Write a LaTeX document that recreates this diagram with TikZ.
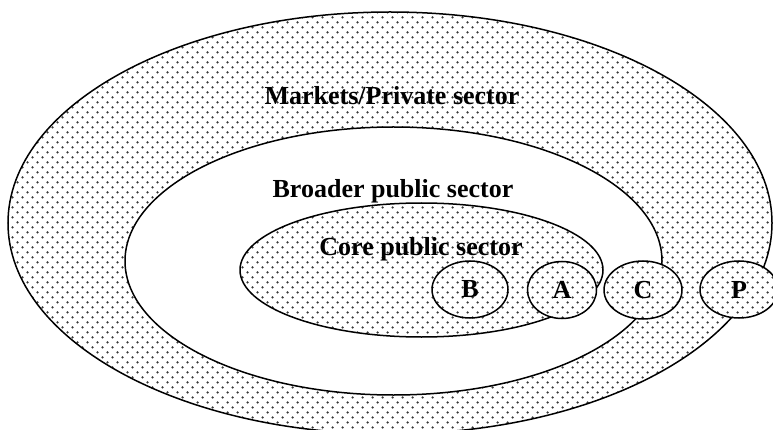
\documentclass[tikz,border=0pt]{standalone}
\usepackage{fontspec}
\setmainfont{Liberation Serif}
\usetikzlibrary{patterns,shapes.geometric}
\pgfdeclarepatternformonly{sdots}{\pgfqpoint{-1.5pt}{-1.5pt}}{\pgfqpoint{11.5pt}{11.5pt}}{\pgfqpoint{10pt}{10pt}}{%
  \pgfpathcircle{\pgfqpoint{2.5pt}{2.5pt}}{1.25pt}%
  \pgfpathcircle{\pgfqpoint{7.5pt}{7.5pt}}{1.25pt}%
  \pgfusepath{fill}}
\tikzset{
  outl/.style={draw=black,line width=1.5pt},
  dotted area/.style={outl,preaction={fill=white},pattern=sdots,pattern color=black!78},
  white area/.style={outl,fill=white},
  lbl/.style={font=\fontsize{26}{30}\selectfont\bfseries,inner sep=0pt,anchor=base},
  letterbox/.style={dotted area,ellipse,inner sep=0pt,font=\fontsize{26}{30}\selectfont\bfseries},
}
\begin{document}
\begin{tikzpicture}[x=1pt,y=-1pt]
\useasboundingbox (0,0) rectangle (773,430);
\clip (0,0) rectangle (773,430);
\fill[white] (0,0) rectangle (773,430);
% outer: markets / private sector
\draw[dotted area] (390,223) ellipse [x radius=382pt, y radius=211pt];
% middle: broader public sector
\draw[white area] (393.5,261) ellipse [x radius=268.5pt, y radius=134pt];
% core public sector
\draw[dotted area] (421.5,270) ellipse [x radius=181.5pt, y radius=67pt];
% small actors
\node[letterbox,minimum width=76pt,minimum height=57pt] (B) at (470,289.5) {B};
\node[letterbox,minimum width=69pt,minimum height=57pt] (A) at (562,290) {A};
\node[letterbox,minimum width=78pt,minimum height=58pt] (C) at (643,290) {C};
\node[letterbox,minimum width=78pt,minimum height=57pt] (P) at (739,289.5) {P};
% labels
\node[lbl] (mkt) at (392,105) {Markets/Private sector};
\node[lbl] (bps) at (393,198) {Broader public sector};
\node[lbl] (cps) at (421,255) {Core public sector};
\end{tikzpicture}
\end{document}
